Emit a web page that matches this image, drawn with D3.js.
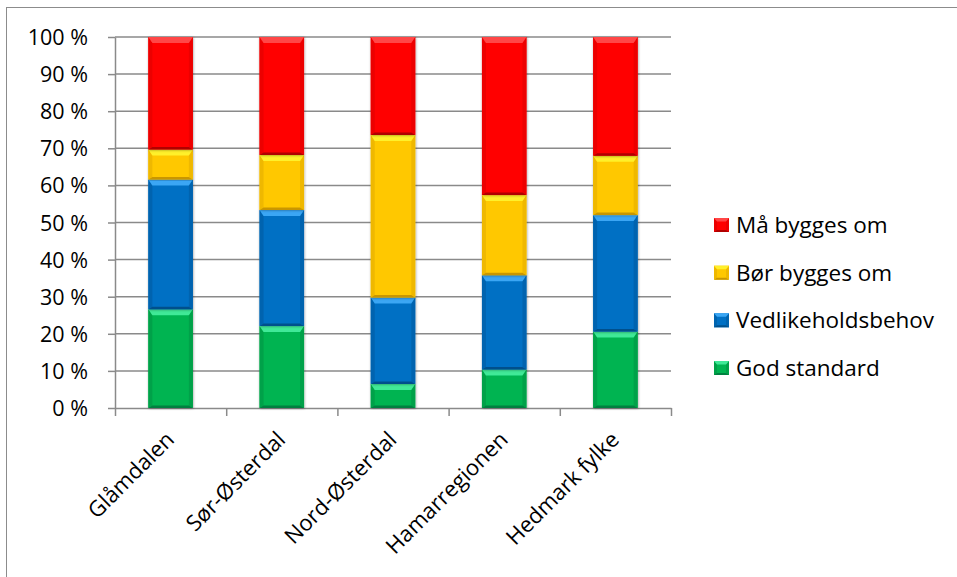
<!DOCTYPE html>
<html>
<head>
<meta charset="utf-8">
<script src="https://cdn.jsdelivr.net/npm/d3@7"></script>
<style>
  html, body { margin: 0; padding: 0; background: #fff; }
  svg { display: block; }
  text { font-family: "Open Sans", "Noto Sans", sans-serif; fill: #000; }
</style>
</head>
<body>
<svg id="chart" width="957" height="577"></svg>
<script>
// Kategorier (regioner) og andeler per tilstandsgrad, i prosent
const categories = ["Glåmdalen", "Sør-Østerdal", "Nord-Østerdal", "Hamarregionen", "Hedmark fylke"];
const godStandard = [26.6, 22.1, 6.5, 10.4, 20.6];
const vedlikeholdsbehov = [35.0, 31.3, 23.3, 25.4, 31.4];
const borByggesOm = [8.1, 14.8, 43.8, 21.6, 16.0];
const maByggesOm = [30.3, 31.8, 26.4, 42.6, 32.0];
const seriesNames = ["God standard", "Vedlikeholdsbehov", "Bør bygges om", "Må bygges om"];
const yTicks = [0, 10, 20, 30, 40, 50, 60, 70, 80, 90, 100];

// Farger: grunnfarge, lys kant (topp), mørk kant (bunn), sidekant
const palette = {
  "God standard":      { base: "#00B451", light: "#3FE997", dark: "#00803F", side: "#00A148" },
  "Vedlikeholdsbehov": { base: "#0070C4", light: "#3AA6F4", dark: "#00508C", side: "#0064AF" },
  "Bør bygges om":     { base: "#FFC800", light: "#FFF02A", dark: "#C99600", side: "#EFB800" },
  "Må bygges om":      { base: "#FF0000", light: "#FF4646", dark: "#B00000", side: "#EC0000" }
};

const rows = categories.map((c, i) => ({
  category: c,
  "God standard": godStandard[i],
  "Vedlikeholdsbehov": vedlikeholdsbehov[i],
  "Bør bygges om": borByggesOm[i],
  "Må bygges om": maByggesOm[i]
}));

const svg = d3.select("#chart");
const plot = { left: 115, right: 671, top: 37, bottom: 408 };
const gridColor = "#8a8a8a";

// Ytre ramme
svg.append("rect")
  .attr("x", 6.5).attr("y", 7.5)
  .attr("width", 1000).attr("height", 1000)
  .attr("fill", "none").attr("stroke", "#8c8c8c").attr("stroke-width", 1);

const x = d3.scaleBand().domain(categories)
  .range([plot.left, plot.right]).paddingInner(0.6).paddingOuter(0.3);
const xEdge = d3.scaleLinear().domain([0, categories.length]).range([plot.left, plot.right]);
const y = d3.scaleLinear().domain([0, 100]).range([plot.bottom, plot.top]);

// Rutenett
svg.append("g").selectAll("line").data(yTicks.filter(d => d > 0)).join("line")
  .attr("x1", plot.left).attr("x2", plot.right)
  .attr("y1", d => y(d)).attr("y2", d => y(d))
  .attr("stroke", gridColor).attr("stroke-width", 1.5);

// Y-akse
const yAxis = svg.append("g").attr("transform", `translate(${plot.left},0)`)
  .call(d3.axisLeft(y).tickValues(yTicks).tickFormat(d => d + " %").tickSize(7).tickSizeOuter(0).tickPadding(20));
yAxis.selectAll("line, path").attr("stroke", gridColor).attr("stroke-width", 1.5);
yAxis.selectAll("text").style("font-size", "21.5px").attr("dy", "0.35em");

// X-akse med merker mellom kategoriene
const xAxis = svg.append("g").attr("transform", `translate(0,${plot.bottom})`)
  .call(d3.axisBottom(xEdge).tickValues(d3.range(categories.length + 1)).tickFormat("").tickSize(8).tickSizeOuter(0));
xAxis.selectAll("line, path").attr("stroke", gridColor).attr("stroke-width", 1.5);

// Kategorietiketter, rotert 45 grader
svg.append("g").selectAll("text").data(categories).join("text")
  .attr("text-anchor", "end")
  .attr("transform", d => `translate(${x(d) + x.bandwidth() / 2 + 5},${plot.bottom + 33}) rotate(-45)`)
  .style("font-size", "22px")
  .text(d => d);

// Skygge rundt søylene
const defs = svg.append("defs");
const shadow = defs.append("filter").attr("id", "barShadow")
  .attr("x", "-20%").attr("y", "-5%").attr("width", "140%").attr("height", "110%");
shadow.append("feDropShadow").attr("dx", 0.5).attr("dy", 0.5).attr("stdDeviation", 1.2)
  .attr("flood-color", "#000").attr("flood-opacity", 0.35);

// Tegner en avfaset blokk (grunnflate + fire kanter)
function bevelBlock(g, x0, y0, w, h, col, bt, bs, bb) {
  const k = Math.min(1, h / (bt + bb + 1));
  bt *= k; bb *= k;
  const x1 = x0 + w, y1 = y0 + h;
  g.append("rect").attr("x", x0).attr("y", y0).attr("width", w).attr("height", h).attr("fill", col.base);
  const poly = (pts, fill) => g.append("polygon").attr("points", pts.map(p => p.join(",")).join(" ")).attr("fill", fill);
  poly([[x0, y0], [x0 + bs, y0 + bt], [x0 + bs, y1 - bb], [x0, y1]], col.side);
  poly([[x1, y0], [x1 - bs, y0 + bt], [x1 - bs, y1 - bb], [x1, y1]], col.side);
  poly([[x0, y1], [x0 + bs, y1 - bb], [x1 - bs, y1 - bb], [x1, y1]], col.dark);
  poly([[x0, y0], [x1, y0], [x1 - bs, y0 + bt], [x0 + bs, y0 + bt]], col.light);
}

const stacked = d3.stack().keys(seriesNames)(rows);

const barsG = svg.append("g");
stacked.forEach(layer => {
  const col = palette[layer.key];
  layer.forEach(seg => {
    const cat = seg.data.category;
    const g = barsG.append("g").attr("filter", "url(#barShadow)");
    bevelBlock(g, x(cat), y(seg[1]), x.bandwidth(), y(seg[0]) - y(seg[1]), col, 6, 4, 2.5);
  });
});

// Forklaring (Må bygges om øverst)
const legendItems = seriesNames.slice().reverse();
const legendY = d3.scalePoint().domain(legendItems).range([225, 368]);
const legend = svg.append("g");
legendItems.forEach(name => {
  const cy = legendY(name);
  const g = legend.append("g");
  bevelBlock(g, 714, cy - 7, 15, 14, palette[name], 3.5, 3, 2);
  legend.append("text")
    .attr("x", 736).attr("y", cy).attr("dy", "0.35em")
    .style("font-size", "22.5px")
    .text(name);
});
</script>
</body>
</html>
